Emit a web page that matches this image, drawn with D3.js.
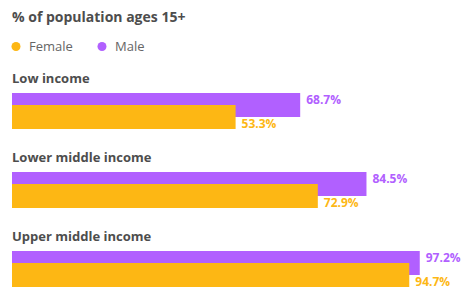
<!DOCTYPE html>
<html>
<head>
<meta charset="utf-8">
<script src="https://cdn.jsdelivr.net/npm/d3@7"></script>
<style>
  body { margin: 0; background: #fff; }
  text { font-family: "Open Sans", sans-serif; }
</style>
</head>
<body>
<div id="chart"></div>
<script>
const categories = ["Low income", "Lower middle income", "Upper middle income"];
const female = [53.3, 72.9, 94.7];
const male = [68.7, 84.5, 97.2];
const seriesNames = ["Female", "Male"];
const colors = { Female: "#fdb714", Male: "#b160ff" };

const width = 461, height = 289;

const svg = d3.select("#chart")
  .append("svg")
  .attr("width", width)
  .attr("height", height);

// scales
const x = d3.scaleLinear().domain([0, 100]).range([12, 431.5]);
const y = d3.scaleBand().domain(categories).range([93, 330]).paddingInner(0);
const barH = 24;

// title
svg.append("text")
  .attr("x", 12)
  .attr("y", 22)
  .style("font-size", "14px")
  .style("font-weight", "700")
  .style("fill", "#4d4d4d")
  .text("% of population ages 15+");

// legend
const legendX = [16, 102];
const leg = svg.selectAll(".legend")
  .data(seriesNames)
  .enter()
  .append("g")
  .attr("class", "legend")
  .attr("transform", (d, i) => `translate(${legendX[i]},46.5)`);

leg.append("circle")
  .attr("r", 4.5)
  .attr("fill", d => colors[d]);

leg.append("text")
  .attr("x", 13)
  .attr("y", 4.5)
  .style("font-size", "13px")
  .style("fill", "#666")
  .text(d => d);

// groups
const rows = categories.map((c, i) => ({ cat: c, f: female[i], m: male[i] }));

const g = svg.selectAll(".row")
  .data(rows)
  .enter()
  .append("g")
  .attr("class", "row");

g.append("text")
  .attr("x", 12)
  .attr("y", d => y(d.cat) - 10)
  .style("font-size", "13px")
  .style("font-weight", "700")
  .style("fill", "#4d4d4d")
  .text(d => d.cat);

g.append("rect")
  .attr("x", x(0))
  .attr("y", d => y(d.cat))
  .attr("width", d => x(d.m) - x(0))
  .attr("height", barH)
  .attr("fill", colors.Male);

g.append("rect")
  .attr("x", x(0))
  .attr("y", d => y(d.cat) + 12)
  .attr("width", d => x(d.f) - x(0))
  .attr("height", barH)
  .attr("fill", colors.Female);

g.append("text")
  .attr("x", d => x(d.m) + 6)
  .attr("y", d => y(d.cat) + 7)
  .attr("dy", "0.35em")
  .style("font-size", "12px")
  .style("font-weight", "700")
  .style("fill", colors.Male)
  .text(d => d.m.toFixed(1) + "%");

g.append("text")
  .attr("x", d => x(d.f) + 6)
  .attr("y", d => y(d.cat) + 31)
  .attr("dy", "0.35em")
  .style("font-size", "12px")
  .style("font-weight", "700")
  .style("fill", colors.Female)
  .text(d => d.f.toFixed(1) + "%");
</script>
</body>
</html>
